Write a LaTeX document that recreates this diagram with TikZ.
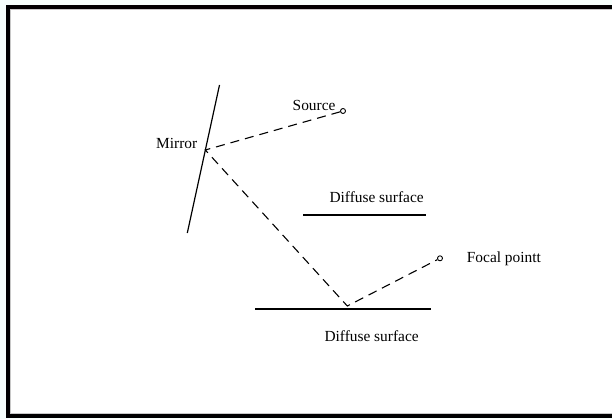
\documentclass[tikz,border=0pt]{standalone}
\usepackage{fontspec}
\setmainfont{Liberation Serif}
\definecolor{paper}{RGB}{246,255,252}
\definecolor{rim}{RGB}{200,200,200}
\tikzset{
  solidline/.style={line width=1.2pt, line cap=butt},
  ray/.style={line width=1.1pt, dash pattern=on 9pt off 6pt},
  dot/.style={circle, draw, line width=0.9pt, minimum size=5pt, inner sep=0pt},
  lbl/.style={anchor=base west, inner sep=0pt, font=\fontsize{15.4}{18}\selectfont},
}
\begin{document}
\begin{tikzpicture}[x=1pt, y=-1pt]
  \useasboundingbox (0,0) rectangle (612,419);
  \fill[paper] (0,0) rectangle (612,419);
  \begin{scope}
    \clip (0,0) rectangle (612,419);
    % framed panel, open to the right
    \fill[black] (6,5) rectangle (630,418);
    \fill[rim] (10,9) rectangle (630,414);
    \fill[white] (11,10) rectangle (630,413);
  \end{scope}

  % mirror
  \coordinate (mt) at (219.5,85);
  \coordinate (mb) at (187.3,233);
  \draw[solidline] (mt) -- (mb);
  \coordinate (m) at (205.3,150);

  % diffuse surfaces
  \coordinate (ua) at (303.3,215);
  \coordinate (ub) at (425.7,215);
  \draw[solidline] (ua) -- (ub);
  \coordinate (la) at (255,309);
  \coordinate (lb) at (430.7,309);
  \draw[solidline] (la) -- (lb);
  \coordinate (b) at (347.3,306);

  % source and focal point
  \node[dot] (src) at (343,111) {};
  \node[dot] (fp) at (440,258.3) {};

  % light path
  \draw[ray] (src) -- (m) -- (b) -- (fp);

  % labels
  \node[lbl] (tmirror) at (156,149) {Mirror};
  \node[lbl] (tsource) at (292.5,111) {Source};
  \node[lbl] (tdu) at (329.3,202.7) {Diffuse surface};
  \node[lbl] (tdl) at (324.3,341) {Diffuse surface};
  \node[lbl] (tfocal) at (466.7,262) {Focal pointt};
\end{tikzpicture}
\end{document}
